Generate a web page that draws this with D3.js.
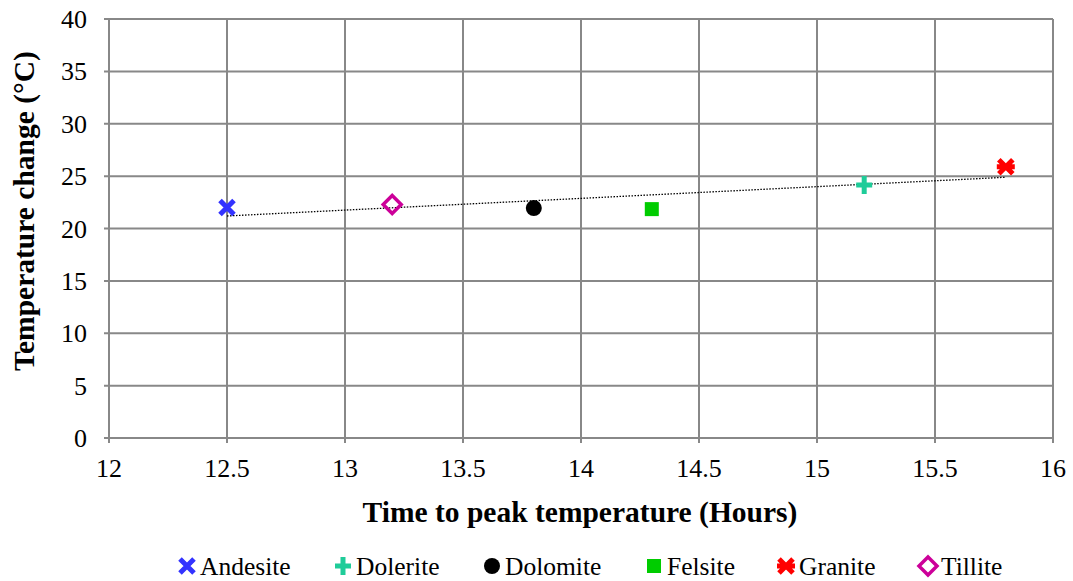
<!DOCTYPE html>
<html>
<head>
<meta charset="utf-8">
<script src="https://cdn.jsdelivr.net/npm/d3@7"></script>
<style>
  body { margin: 0; background: #fff; }
</style>
</head>
<body>
<svg width="1073" height="581"></svg>
<script>
const rocks = ["Andesite", "Dolerite", "Dolomite", "Felsite", "Granite", "Tillite"];
const hours = [12.5, 15.2, 13.8, 14.3, 15.8, 13.2];
const tempChange = [22.0, 24.15, 21.95, 21.85, 25.9, 22.3];
const xTicks = [12, 12.5, 13, 13.5, 14, 14.5, 15, 15.5, 16];
const yTicks = [0, 5, 10, 15, 20, 25, 30, 35, 40];

const colors = ["#3333ff", "#1fcc99", "#000000", "#00cc00", "#ff0000", "#cc0099"];
const shapes = ["x", "plus", "circle", "square", "star", "diamond"];

const serif = "'Liberation Serif', 'Times New Roman', serif";
const svg = d3.select("svg");

const x = d3.scaleLinear().domain([12, 16]).range([109, 1053]);
const y = d3.scaleLinear().domain([0, 40]).range([438, 19]);

const gridColor = "#888888";

// grid
svg.append("g").selectAll("line").data(yTicks).join("line")
  .attr("x1", x(12) - 5).attr("x2", x(16))
  .attr("y1", d => y(d)).attr("y2", d => y(d))
  .attr("stroke", gridColor).attr("stroke-width", 2);
svg.append("g").selectAll("line").data(xTicks).join("line")
  .attr("x1", d => x(d)).attr("x2", d => x(d))
  .attr("y1", y(40)).attr("y2", y(0) + 5)
  .attr("stroke", gridColor).attr("stroke-width", 2);

// tick labels
svg.append("g").selectAll("text").data(yTicks).join("text")
  .attr("font-family", serif)
  .attr("x", x(12) - 22).attr("y", d => y(d))
  .attr("dy", "0.35em").attr("text-anchor", "end")
  .attr("font-size", 26).text(d => d);
svg.append("g").selectAll("text").data(xTicks).join("text")
  .attr("font-family", serif)
  .attr("x", d => x(d)).attr("y", y(0) + 39)
  .attr("text-anchor", "middle")
  .attr("font-size", 26).text(d => d);

// axis titles
svg.append("text")
  .attr("font-family", serif)
  .attr("x", 580).attr("y", 522)
  .attr("text-anchor", "middle").attr("font-size", 29.5).attr("font-weight", "bold")
  .text("Time to peak temperature (Hours)");
svg.append("text")
  .attr("font-family", serif)
  .attr("transform", `translate(34,211) rotate(-90)`)
  .attr("text-anchor", "middle").attr("font-size", 29.5).attr("font-weight", "bold")
  .text("Temperature change (°C)");

// linear trendline
const n = hours.length;
const mx = d3.mean(hours), my = d3.mean(tempChange);
let sxy = 0, sxx = 0;
for (let i = 0; i < n; i++) {
  sxy += (hours[i] - mx) * (tempChange[i] - my);
  sxx += (hours[i] - mx) ** 2;
}
const slope = sxy / sxx, icpt = my - slope * mx;
const x0 = d3.min(hours), x1 = d3.max(hours);
svg.append("line")
  .attr("x1", x(x0)).attr("y1", y(icpt + slope * x0))
  .attr("x2", x(x1)).attr("y2", y(icpt + slope * x1))
  .attr("stroke", "#000").attr("stroke-width", 1.3).attr("stroke-dasharray", "1.5,1.5");

function marker(g, shape, color) {
  if (shape === "x") {
    g.append("path").attr("d", "M-7,-7L7,7M-7,7L7,-7")
      .attr("stroke", color).attr("stroke-width", 5).attr("fill", "none");
  } else if (shape === "plus") {
    g.append("path").attr("d", "M-8,0L8,0M0,-9L0,9")
      .attr("stroke", color).attr("stroke-width", 5).attr("fill", "none");
  } else if (shape === "circle") {
    g.append("circle").attr("r", 8).attr("fill", color);
  } else if (shape === "square") {
    g.append("rect").attr("x", -7).attr("y", -7).attr("width", 14).attr("height", 14).attr("fill", color);
  } else if (shape === "star") {
    g.append("path").attr("d", "M-7,-7L7,7M-7,7L7,-7M-9,0L9,0")
      .attr("stroke", color).attr("stroke-width", 5).attr("fill", "none");
  } else if (shape === "diamond") {
    g.append("path").attr("d", "M0,-9L9,0L0,9L-9,0Z")
      .attr("stroke", color).attr("stroke-width", 3.5).attr("fill", "none");
  }
}

// points
rocks.forEach((r, i) => {
  const g = svg.append("g").attr("transform", `translate(${x(hours[i])},${y(tempChange[i])})`);
  marker(g, shapes[i], colors[i]);
});

// legend
const legendX = [187, 343, 492, 654, 786, 928];
rocks.forEach((r, i) => {
  const g = svg.append("g").attr("transform", `translate(${legendX[i]},566)`);
  marker(g, shapes[i], colors[i]);
  g.append("text").attr("font-family", serif)
    .attr("x", 13).attr("dy", "0.35em").attr("font-size", 25.5).text(r);
});
</script>
</body>
</html>
